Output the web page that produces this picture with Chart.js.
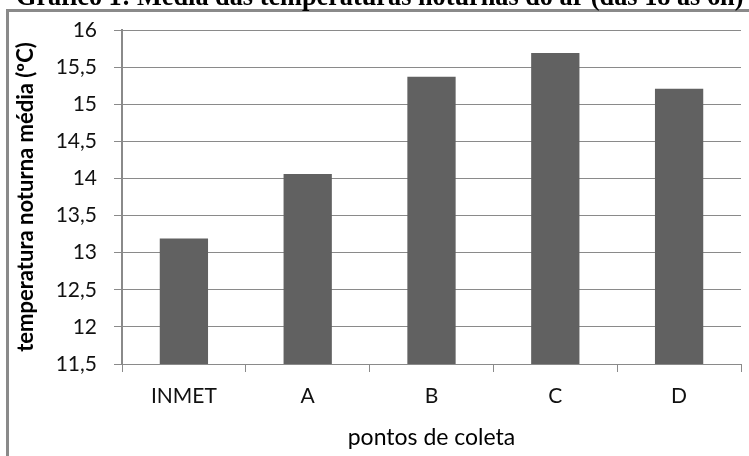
<!DOCTYPE html>
<html lang="pt">
<head>
<meta charset="UTF-8">
<title>Gráfico 1: Média das temperaturas noturnas do ar</title>
<script src="https://cdn.jsdelivr.net/npm/chart.js"></script>
<style>
    html, body { margin: 0; padding: 0; background: #fff; overflow: hidden; }
    #box {
        position: absolute;
        left: 6px;
        top: 9px;
        width: 760px;
        height: 470px;
        border-left: 3px solid #8a8a8a;
        border-top: 3px solid #8a8a8a;
    }
    canvas { position: absolute; left: 0; top: 0; }
</style>
</head>
<body>
<div id="box"></div>
<canvas id="grafico" width="749" height="456"></canvas>
<script>
    // dados
    const pontos = ['INMET', 'A', 'B', 'C', 'D'];
    const temperaturas = [13.19, 14.06, 15.37, 15.69, 15.21];
    const tituloGrafico = 'Gráfico 1: Média das temperaturas noturnas do ar (das 18 às 6h)';
    const tituloY = 'temperatura noturna média (ºC)';
    const tituloX = 'pontos de coleta';

    const cinza = '#8a8a8a';

    // título cortado no topo da imagem
    const tituloTopo = {
        id: 'tituloTopo',
        afterDraw(chart) {
            const ctx = chart.ctx;
            ctx.save();
            let size = 24;
            ctx.font = 'bold ' + size + 'px "Liberation Serif"';
            const w = ctx.measureText(tituloGrafico).width;
            size = size * 728 / w;
            ctx.font = 'bold ' + size + 'px "Liberation Serif"';
            ctx.fillStyle = '#000';
            ctx.textBaseline = 'alphabetic';
            ctx.textAlign = 'left';
            ctx.fillText(tituloGrafico, 16, 5);
            ctx.restore();
        }
    };

    new Chart(document.getElementById('grafico'), {
        type: 'bar',
        data: {
            labels: pontos,
            datasets: [{
                data: temperaturas,
                backgroundColor: '#616161',
                categoryPercentage: 1,
                barPercentage: 0.39
            }]
        },
        options: {
            responsive: false,
            animation: false,
            layout: { padding: { top: 30, right: 8, bottom: 0, left: 0 } },
            plugins: {
                legend: { display: false },
                tooltip: { enabled: false }
            },
            scales: {
                x: {
                    afterFit(scale) { scale.height = 92; },
                    grid: {
                        drawOnChartArea: false,
                        color: cinza,
                        tickLength: 8
                    },
                    border: { color: cinza, width: 1 },
                    ticks: {
                        color: '#111',
                        padding: 12,
                        font: { family: 'Lato', size: 21 }
                    },
                    title: {
                        display: true,
                        text: tituloX,
                        color: '#000',
                        padding: { top: 0, bottom: 5 },
                        font: { family: 'Lato', size: 23 }
                    }
                },
                y: {
                    min: 11.5,
                    max: 16,
                    afterFit(scale) { scale.width = 122; },
                    grid: {
                        color: cinza,
                        lineWidth: 1,
                        tickLength: 8
                    },
                    border: { color: cinza, width: 2 },
                    ticks: {
                        stepSize: 0.5,
                        color: '#111',
                        padding: 17,
                        font: { family: 'Lato', size: 21 },
                        callback: (v) => String(v).replace('.', ',')
                    },
                    title: {
                        display: true,
                        text: tituloY,
                        color: '#000',
                        padding: { top: 13, bottom: 0 },
                        font: { family: 'Lato', size: 22, weight: 'bold' }
                    }
                }
            }
        },
        plugins: [tituloTopo]
    });
</script>
</body>
</html>
